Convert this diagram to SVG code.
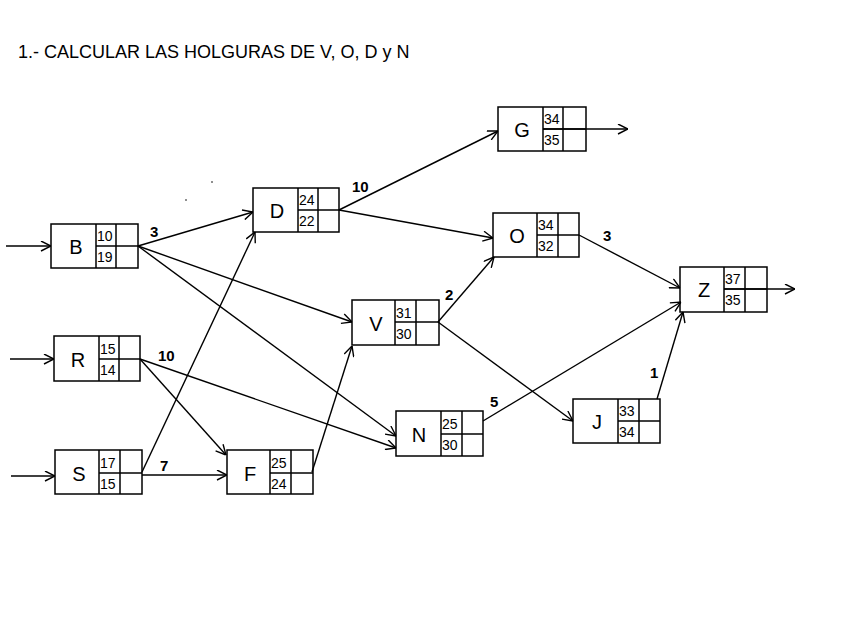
<svg xmlns="http://www.w3.org/2000/svg" width="848" height="636" viewBox="0 0 848 636">
<style>
.box{fill:none;stroke:#000;stroke-width:1.5}
.ln{stroke:#000;stroke-width:1.5}
.e{stroke:#000;stroke-width:1.4;fill:none;marker-end:url(#ah)}
.nm{font-family:"Liberation Sans",Arial,sans-serif;font-size:20px;text-anchor:middle}
.num{font-family:"Liberation Sans",Arial,sans-serif;font-size:14px}
.lb{font-family:"Liberation Sans",Arial,sans-serif;font-size:15px;font-weight:bold}
.t{font-family:"Liberation Sans",Arial,sans-serif;font-size:18px}
</style>
<defs>
<marker id="ah" viewBox="0 0 11 11" refX="11" refY="5.5" markerWidth="11" markerHeight="11" markerUnits="userSpaceOnUse" orient="auto">
<path d="M1,0.5 L11,5.5 L1,10.5" fill="none" stroke="#000" stroke-width="1.4"/>
</marker>
</defs>
<rect width="848" height="636" fill="#fff"/>
<text class="t" x="18" y="58">1.- CALCULAR LAS HOLGURAS DE V, O, D y N</text>
<circle cx="186" cy="200" r="0.8" fill="#000"/>
<circle cx="212" cy="182" r="0.8" fill="#000"/>
<g id="connectors">
<line class="e" x1="6" y1="246" x2="51" y2="246"/>
<line class="e" x1="10" y1="359" x2="54" y2="359"/>
<line class="e" x1="11" y1="476" x2="55" y2="476"/>
<line class="e" x1="543" y1="129" x2="628" y2="129"/>
<line class="e" x1="724" y1="289" x2="795" y2="289"/>
<line class="e" x1="138" y1="246" x2="253" y2="212"/>
<line class="e" x1="138" y1="246" x2="352" y2="322"/>
<line class="e" x1="138" y1="246" x2="396" y2="436"/>
<line class="e" x1="140" y1="359" x2="396" y2="448"/>
<line class="e" x1="140" y1="359" x2="226" y2="455"/>
<line class="e" x1="142" y1="472" x2="255" y2="232"/>
<line class="e" x1="142" y1="475" x2="227" y2="475"/>
<line class="e" x1="312" y1="472" x2="352" y2="346"/>
<line class="e" x1="339" y1="210" x2="498" y2="131"/>
<line class="e" x1="339" y1="210" x2="493" y2="238"/>
<line class="e" x1="438" y1="322" x2="494" y2="257"/>
<line class="e" x1="438" y1="322" x2="573" y2="421"/>
<line class="e" x1="579" y1="235" x2="680" y2="288"/>
<line class="e" x1="483" y1="421" x2="681" y2="302"/>
<line class="e" x1="657" y1="399" x2="683" y2="312"/>
<text class="lb" x="150" y="237">3</text>
<text class="lb" x="352" y="192">10</text>
<text class="lb" x="158" y="361">10</text>
<text class="lb" x="160" y="471">7</text>
<text class="lb" x="445" y="300">2</text>
<text class="lb" x="603" y="241">3</text>
<text class="lb" x="490" y="407">5</text>
<text class="lb" x="650" y="378">1</text>
</g>
<g id="node-B">
<rect class="box" x="51" y="224" width="87" height="44"/>
<line class="ln" x1="96" y1="224" x2="96" y2="268"/><line class="ln" x1="116" y1="224" x2="116" y2="268"/><line class="ln" x1="96" y1="246" x2="138" y2="246"/>
<text class="nm" x="76" y="254">B</text><text class="num" x="97" y="241">10</text><text class="num" x="97" y="262">19</text>
</g>
<g id="node-D">
<rect class="box" x="253" y="188" width="86" height="44"/>
<line class="ln" x1="298" y1="188" x2="298" y2="232"/><line class="ln" x1="318" y1="188" x2="318" y2="232"/><line class="ln" x1="298" y1="210" x2="339" y2="210"/>
<text class="nm" x="277" y="218">D</text><text class="num" x="299" y="205">24</text><text class="num" x="299" y="226">22</text>
</g>
<g id="node-G">
<rect class="box" x="498" y="107" width="88" height="44"/>
<line class="ln" x1="543" y1="107" x2="543" y2="151"/><line class="ln" x1="563" y1="107" x2="563" y2="151"/><line class="ln" x1="543" y1="129" x2="586" y2="129"/>
<text class="nm" x="522" y="137">G</text><text class="num" x="544" y="124">34</text><text class="num" x="544" y="145">35</text>
</g>
<g id="node-O">
<rect class="box" x="493" y="213" width="86" height="44"/>
<line class="ln" x1="537" y1="213" x2="537" y2="257"/><line class="ln" x1="558" y1="213" x2="558" y2="257"/><line class="ln" x1="537" y1="235" x2="579" y2="235"/>
<text class="nm" x="517" y="243">O</text><text class="num" x="538" y="230">34</text><text class="num" x="538" y="251">32</text>
</g>
<g id="node-V">
<rect class="box" x="352" y="300" width="87" height="45"/>
<line class="ln" x1="395" y1="300" x2="395" y2="345"/><line class="ln" x1="416" y1="300" x2="416" y2="345"/><line class="ln" x1="395" y1="322" x2="439" y2="322"/>
<text class="nm" x="376" y="331">V</text><text class="num" x="396" y="318">31</text><text class="num" x="396" y="339">30</text>
</g>
<g id="node-Z">
<rect class="box" x="680" y="267" width="87" height="45"/>
<line class="ln" x1="724" y1="267" x2="724" y2="312"/><line class="ln" x1="745" y1="267" x2="745" y2="312"/><line class="ln" x1="724" y1="289" x2="767" y2="289"/>
<text class="nm" x="704" y="297">Z</text><text class="num" x="725" y="284">37</text><text class="num" x="725" y="305">35</text>
</g>
<g id="node-R">
<rect class="box" x="54" y="336" width="86" height="45"/>
<line class="ln" x1="99" y1="336" x2="99" y2="381"/><line class="ln" x1="119" y1="336" x2="119" y2="381"/><line class="ln" x1="99" y1="359" x2="140" y2="359"/>
<text class="nm" x="78" y="367">R</text><text class="num" x="100" y="354">15</text><text class="num" x="100" y="375">14</text>
</g>
<g id="node-N">
<rect class="box" x="396" y="411" width="87" height="45"/>
<line class="ln" x1="441" y1="411" x2="441" y2="456"/><line class="ln" x1="462" y1="411" x2="462" y2="456"/><line class="ln" x1="441" y1="434" x2="483" y2="434"/>
<text class="nm" x="419" y="442">N</text><text class="num" x="442" y="429">25</text><text class="num" x="442" y="450">30</text>
</g>
<g id="node-J">
<rect class="box" x="573" y="399" width="87" height="44"/>
<line class="ln" x1="618" y1="399" x2="618" y2="443"/><line class="ln" x1="639" y1="399" x2="639" y2="443"/><line class="ln" x1="618" y1="421" x2="660" y2="421"/>
<text class="nm" x="597" y="429">J</text><text class="num" x="619" y="416">33</text><text class="num" x="619" y="437">34</text>
</g>
<g id="node-S">
<rect class="box" x="55" y="450" width="87" height="44"/>
<line class="ln" x1="99" y1="450" x2="99" y2="494"/><line class="ln" x1="120" y1="450" x2="120" y2="494"/><line class="ln" x1="99" y1="473" x2="142" y2="473"/>
<text class="nm" x="79" y="481">S</text><text class="num" x="100" y="468">17</text><text class="num" x="100" y="489">15</text>
</g>
<g id="node-F">
<rect class="box" x="227" y="450" width="86" height="44"/>
<line class="ln" x1="270" y1="450" x2="270" y2="494"/><line class="ln" x1="291" y1="450" x2="291" y2="494"/><line class="ln" x1="270" y1="473" x2="313" y2="473"/>
<text class="nm" x="250" y="481">F</text><text class="num" x="271" y="468">25</text><text class="num" x="271" y="489">24</text>
</g>
</svg>
